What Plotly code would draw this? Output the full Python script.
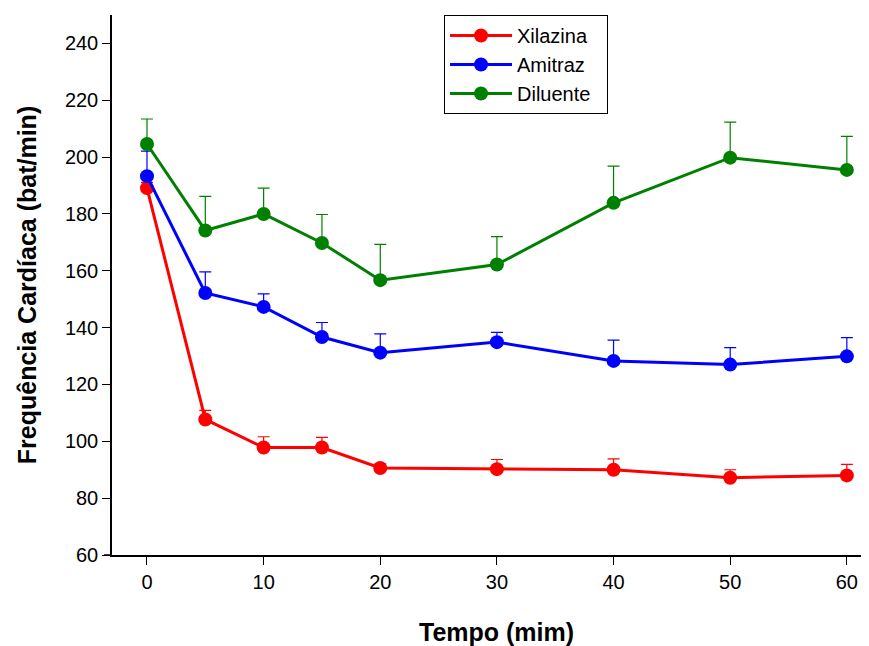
import plotly.graph_objects as go

tempo = [0, 5, 10, 15, 20, 30, 40, 50, 60]
xilazina = [189.1, 107.7, 97.8, 97.8, 90.6, 90.2, 90.0, 87.2, 88.0]
xilazina_ep = [2.0, 3.2, 3.8, 3.6, 1.5, 3.4, 3.8, 2.8, 3.9]
amitraz = [193.3, 152.2, 147.3, 136.7, 131.2, 134.9, 128.3, 127.0, 129.9]
amitraz_ep = [8.8, 7.4, 4.6, 5.1, 6.6, 3.4, 7.3, 6.0, 6.6]
diluente = [204.6, 174.2, 180.0, 169.8, 156.7, 162.2, 183.9, 199.8, 195.5]
diluente_ep = [8.8, 12.0, 9.1, 10.0, 12.6, 9.8, 12.9, 12.5, 11.8]

series = [
    ("Xilazina", xilazina, xilazina_ep, "#ff0000"),
    ("Amitraz", amitraz, amitraz_ep, "#0000ff"),
    ("Diluente\u00a0\u00a0", diluente, diluente_ep, "#008000"),
]

fig = go.Figure()
for name, vals, ep, color in series:
    fig.add_trace(go.Scatter(
        x=tempo, y=vals, name=name, mode="lines+markers",
        line=dict(color=color, width=3),
        marker=dict(color=color, size=14),
        error_y=dict(type="data", array=ep, arrayminus=[0] * len(ep),
                     symmetric=False, color=color, thickness=1.2, width=6),
    ))

font = "Arial, Liberation Sans, sans-serif"
# page body has an 8px margin: figure is sized/offset to fill the 869x646 window
fig.update_layout(
    width=861, height=638,
    margin=dict(l=104, r=0, t=7, b=91),
    paper_bgcolor="white", plot_bgcolor="white",
    font=dict(family=font, size=20, color="black"),
    showlegend=True,
    legend=dict(x=0.4386, y=1.0, xanchor="left", yanchor="top",
                bgcolor="white", bordercolor="black", borderwidth=1,
                font=dict(size=20), tracegroupgap=0, itemwidth=62),
    xaxis=dict(range=[-3, 61.9], tickvals=[0, 10, 20, 30, 40, 50, 60],
               showgrid=False, zeroline=False, showline=True, linecolor="black",
               linewidth=1.5, ticks="outside", ticklen=8, tickcolor="black",
               title=None),
    yaxis=dict(range=[60, 250], tickvals=[60, 80, 100, 120, 140, 160, 180, 200, 220, 240],
               showgrid=False, zeroline=False, showline=True, linecolor="black",
               linewidth=1.5, ticks="outside", ticklen=8, tickcolor="black",
               title=dict(text="<b>Frequência Cardíaca (bat/min)</b>",
                          font=dict(size=25), standoff=21)),
    annotations=[dict(text="<b>Tempo (mim)</b>", x=30, xref="x",
                      y=(555 - 632) / 540, yref="paper",
                      showarrow=False, font=dict(size=25), yanchor="middle")],
    shapes=[dict(type="line", xref="paper", yref="paper", x0=-8 / 757, x1=0,
                 y0=0, y1=0, line=dict(color="black", width=1.5))],
)

fig.write_html("out.html")
